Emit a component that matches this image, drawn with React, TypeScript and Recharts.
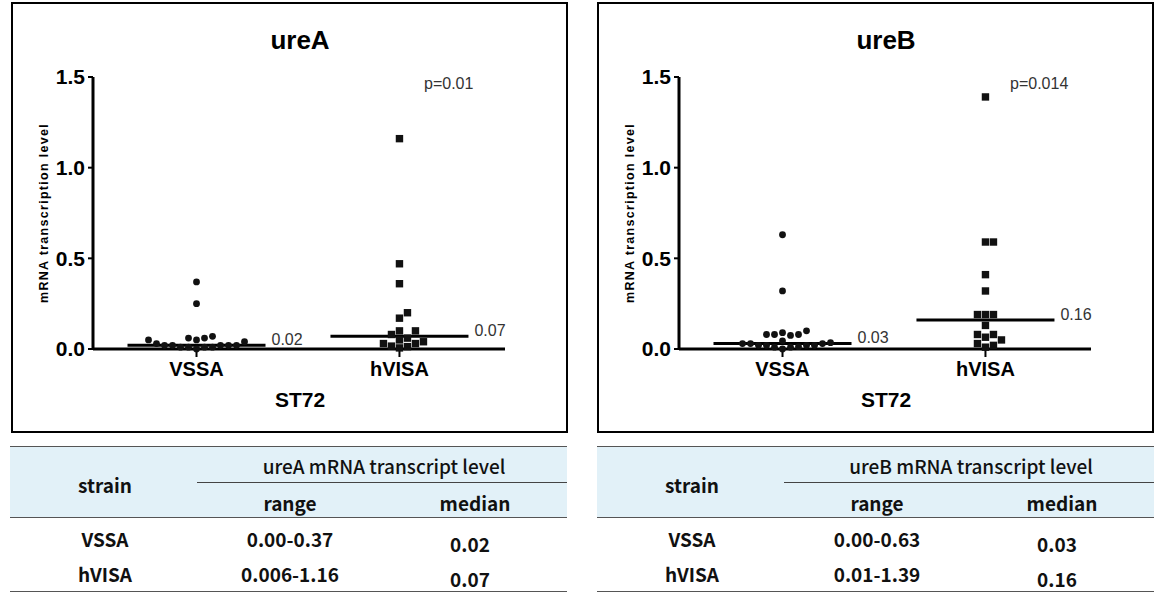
import React from 'react';
import {
  ScatterChart,
  Scatter,
  XAxis,
  YAxis,
  ReferenceLine,
} from 'recharts';

// groups on the x axis
const categories = ['VSSA', 'hVISA'];

// ureA mRNA transcription level per strain
const ureAVssa = [0.37, 0.25, 0.07, 0.06, 0.06, 0.05, 0.05, 0.04, 0.03, 0.02, 0.02, 0.02, 0.02, 0.02, 0.01, 0.01, 0.01, 0.01, 0.0];
const ureAHvisa = [1.16, 0.47, 0.36, 0.2, 0.17, 0.1, 0.1, 0.08, 0.06, 0.05, 0.04, 0.03, 0.03, 0.016, 0.013, 0.006];
const ureAMedians = [0.02, 0.07];

// ureB mRNA transcription level per strain
const ureBVssa = [0.63, 0.32, 0.1, 0.09, 0.08, 0.08, 0.08, 0.075, 0.045, 0.035, 0.03, 0.03, 0.03, 0.02, 0.02, 0.02, 0.02, 0.013, 0.01, 0.01, 0.0];
const ureBHvisa = [1.39, 0.59, 0.59, 0.41, 0.32, 0.19, 0.19, 0.19, 0.13, 0.08, 0.08, 0.065, 0.05, 0.03, 0.02, 0.01];
const ureBMedians = [0.03, 0.16];

const yTicks = [0, 0.5, 1, 1.5];

// table rows
const ureARanges = ['0.00-0.37', '0.006-1.16'];
const ureBRanges = ['0.00-0.63', '0.01-1.39'];

const AXIS_FONT = '"Liberation Sans", Arial, sans-serif';
const TABLE_FONT = '"Noto Sans CJK KR", "Noto Sans", sans-serif';

const CHART_W = 553;
const CHART_H = 427;
const MARGIN = { top: 73, right: 61, left: 0, bottom: 52 };
const X_DOMAIN: [number, number] = [0.49, 2.52];
const Y_DOMAIN: [number, number] = [0, 1.5];
const DOT = 8; // px spacing between neighbouring dots in the swarm

// simple beeswarm: put each value at its group centre, shift sideways while it overlaps
function swarm(values: number[], center: number) {
  const pxX = (CHART_W - MARGIN.right - 80) / (X_DOMAIN[1] - X_DOMAIN[0]);
  const pxY = (CHART_H - MARGIN.top - MARGIN.bottom - 30) / (Y_DOMAIN[1] - Y_DOMAIN[0]);
  const step = DOT / pxX;
  const placed: { x: number; y: number }[] = [];
  const sorted = [...values].sort((a, b) => a - b);
  sorted.forEach((v) => {
    for (let k = 0; k < 40; k++) {
      const n = Math.ceil(k / 2) * (k % 2 === 1 ? 1 : -1);
      const off = n * step;
      const hit = placed.some((p) => {
        const dx = (p.x - center - off) * pxX;
        const dy = (p.y - v) * pxY;
        return dx * dx + dy * dy < DOT * DOT - 0.5;
      });
      if (!hit) {
        placed.push({ x: center + off, y: v });
        break;
      }
    }
  });
  return placed;
}

const CircleDot = (props: any) => (
  <circle cx={props.cx} cy={props.cy} r={3.4} fill="#111" />
);

const SquareDot = (props: any) => (
  <rect x={props.cx - 3.7} y={props.cy - 3.7} width={7.4} height={7.4} fill="#111" />
);

interface PanelProps {
  left: number;
  title: string;
  pValue: string;
  vssa: number[];
  hvisa: number[];
  medians: number[];
}

const Panel: React.FC<PanelProps> = ({ left, title, pValue, vssa, hvisa, medians }) => {
  const vssaPts = swarm(vssa, 1);
  const hvisaPts = swarm(hvisa, 2);
  return (
    <div
      style={{
        position: 'absolute',
        left,
        top: 2,
        width: 557,
        height: 431,
        border: '2px solid #000',
        boxSizing: 'border-box',
        background: '#fff',
        fontFamily: AXIS_FONT,
      }}
    >
      <div style={{ position: 'absolute', left: 287, top: 22, transform: 'translateX(-50%)', fontSize: 26, fontWeight: 700, lineHeight: '28px' }}>
        {title}
      </div>
      <ScatterChart width={CHART_W} height={CHART_H} margin={MARGIN}>
        <XAxis
          type="number"
          dataKey="x"
          domain={X_DOMAIN}
          ticks={[1, 2]}
          tickFormatter={(v: number) => categories[v - 1] ?? ''}
          axisLine={{ stroke: '#000', strokeWidth: 3 }}
          tickLine={{ stroke: '#000', strokeWidth: 2 }}
          tickSize={8}
          tickMargin={5}
          height={30}
          tick={{ fontSize: 20, fontWeight: 700, fill: '#000', fontFamily: AXIS_FONT }}
          allowDataOverflow
        />
        <YAxis
          type="number"
          dataKey="y"
          domain={Y_DOMAIN}
          ticks={yTicks}
          tickFormatter={(v: number) => v.toFixed(1)}
          axisLine={{ stroke: '#000', strokeWidth: 3 }}
          tickLine={{ stroke: '#000', strokeWidth: 2 }}
          tickSize={5}
          tickMargin={3}
          width={80}
          tick={{ fontSize: 21, fontWeight: 700, fill: '#000', fontFamily: AXIS_FONT }}
        />
        {medians.map((m, i) => (
          <ReferenceLine
            key={i}
            segment={[
              { x: i + 1 - 0.34, y: m },
              { x: i + 1 + 0.34, y: m },
            ]}
            stroke="#000"
            strokeWidth={3}
            label={{ value: m.toFixed(2), position: 'right', offset: 6, dy: -6, fontSize: 16, fill: '#333', fontFamily: AXIS_FONT }}
          />
        ))}
        <Scatter data={vssaPts} shape={CircleDot} isAnimationActive={false} />
        <Scatter data={hvisaPts} shape={SquareDot} isAnimationActive={false} />
      </ScatterChart>
      <div
        style={{
          position: 'absolute',
          left: 31,
          top: 209,
          transform: 'translate(-50%, -50%) rotate(-90deg)',
          whiteSpace: 'nowrap',
          fontSize: 12.5,
          fontWeight: 700,
          letterSpacing: 1.3,
        }}
      >
        mRNA transcription level
      </div>
      <div style={{ position: 'absolute', left: 287, top: 384, transform: 'translateX(-50%)', fontSize: 21, fontWeight: 700, lineHeight: '24px' }}>
        ST72
      </div>
      <div style={{ position: 'absolute', left: 411, top: 71, fontSize: 16, color: '#333', lineHeight: '18px' }}>
        {pValue}
      </div>
    </div>
  );
};

interface TableProps {
  left: number;
  gene: string;
  ranges: string[];
  medians: number[];
}

const txt = (x: number, y: number, s: string, weight: number, size = 19): React.ReactNode => (
  <div
    style={{
      position: 'absolute',
      left: x,
      top: y,
      transform: 'translate(-50%, -50%)',
      fontSize: size,
      fontWeight: weight,
      whiteSpace: 'nowrap',
      lineHeight: '22px',
      color: '#111',
    }}
  >
    {s}
  </div>
);

const SummaryTable: React.FC<TableProps> = ({ left, gene, ranges, medians }) => (
  <div style={{ position: 'absolute', left, top: 446, width: 557, height: 148, fontFamily: TABLE_FONT }}>
    <div style={{ position: 'absolute', left: 0, top: 1, width: 557, height: 70, background: '#e2f1f8' }} />
    <div style={{ position: 'absolute', left: 0, top: 0, width: 557, height: 0, borderTop: '1.5px solid #555' }} />
    <div style={{ position: 'absolute', left: 187, top: 36, width: 370, height: 0, borderTop: '1px solid #444' }} />
    <div style={{ position: 'absolute', left: 0, top: 71, width: 557, height: 0, borderTop: '1.5px solid #555' }} />
    <div style={{ position: 'absolute', left: 0, top: 145, width: 557, height: 0, borderTop: '1.5px solid #555' }} />
    {txt(374, 20, `${gene} mRNA transcript level`, 500)}
    {txt(95, 39, 'strain', 600)}
    {txt(280, 57, 'range', 600)}
    {txt(465, 57, 'median', 600)}
    {categories.map((c, i) => (
      <React.Fragment key={c}>
        {txt(95, 93 + i * 35, c, 700)}
        {txt(280, 93 + i * 35, ranges[i], 700)}
        {txt(460, 98 + i * 35, medians[i].toFixed(2), 700)}
      </React.Fragment>
    ))}
  </div>
);

export default function App() {
  return (
    <div style={{ position: 'absolute', left: 0, top: 0, width: 1165, height: 601, background: '#fff' }}>
      <Panel left={11} title="ureA" pValue="p=0.01" vssa={ureAVssa} hvisa={ureAHvisa} medians={ureAMedians} />
      <Panel left={597} title="ureB" pValue="p=0.014" vssa={ureBVssa} hvisa={ureBHvisa} medians={ureBMedians} />
      <SummaryTable left={10} gene="ureA" ranges={ureARanges} medians={ureAMedians} />
      <SummaryTable left={597} gene="ureB" ranges={ureBRanges} medians={ureBMedians} />
    </div>
  );
}
